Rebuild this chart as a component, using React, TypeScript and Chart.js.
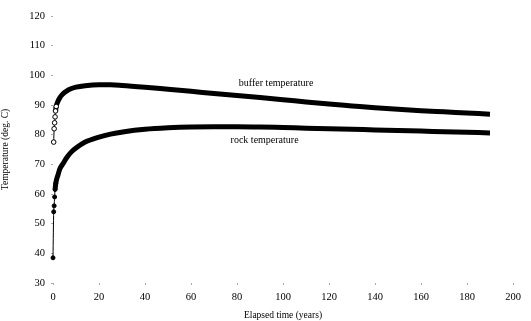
import React, { useEffect, useRef } from "react";
import { Chart, registerables } from "chart.js";

Chart.register(...registerables);

const bufferTime = [0.3, 0.5, 0.7, 0.9, 1.1, 1.4, 2, 3, 4, 5, 7, 10, 14, 20, 25, 30, 40, 50, 60, 70, 80, 90, 100, 110, 120, 130, 140, 150, 160, 170, 180, 190];
const bufferTemp = [77.5, 82, 84, 86, 88, 89.5, 91, 92.5, 93.5, 94.2, 95.2, 96, 96.5, 96.8, 96.8, 96.6, 96, 95.3, 94.6, 93.9, 93.2, 92.5, 91.8, 91, 90.3, 89.7, 89.1, 88.6, 88.1, 87.7, 87.3, 86.9];

const rockTime = [0, 0.3, 0.5, 0.7, 0.9, 1.2, 1.6, 2.2, 3, 4.4, 6, 8, 10, 14, 20, 25, 31, 40, 50, 60, 70, 80, 90, 100, 110, 120, 130, 140, 150, 160, 170, 180, 190];
const rockTemp = [38.5, 54, 56, 59, 61.5, 63.5, 65, 66.5, 68.5, 70.3, 72.3, 74.2, 75.5, 77.5, 79.2, 80.2, 81, 81.8, 82.3, 82.6, 82.7, 82.7, 82.6, 82.4, 82.2, 82, 81.8, 81.6, 81.4, 81.2, 81, 80.8, 80.6];

const xTicks = [0, 20, 40, 60, 80, 100, 120, 140, 160, 180, 200];
const yTicks = [30, 40, 50, 60, 70, 80, 90, 100, 110, 120];

const labelTexts = ["buffer temperature", "rock temperature"];
const labelX = [97, 92];
const labelY = [97.4, 78];

const FONT = "'Liberation Serif', 'DejaVu Serif', serif";

export default function App() {
  const ref = useRef<HTMLCanvasElement | null>(null);

  useEffect(() => {
    document.body.style.margin = "0";
    const canvas = ref.current;
    if (!canvas) return;

    const textPlugin = {
      id: "curveLabels",
      afterDatasetsDraw(chart: any) {
        const { ctx, scales } = chart;
        ctx.save();
        ctx.fillStyle = "#000";
        ctx.font = `10px ${FONT}`;
        ctx.textAlign = "center";
        ctx.textBaseline = "middle";
        labelTexts.forEach((t, i) => {
          ctx.fillText(t, scales.x.getPixelForValue(labelX[i]), scales.y.getPixelForValue(labelY[i]));
        });
        ctx.restore();
      },
    };

    const thinFirst = (n: number) => (c: any) => (c.p0DataIndex < n ? 1 : 5);

    const chart = new Chart(canvas, {
      type: "scatter",
      data: {
        datasets: [
          {
            label: "buffer temperature",
            data: bufferTime.map((t, i) => ({ x: t, y: bufferTemp[i] })),
            showLine: true,
            clip: false,
            borderColor: "#000",
            borderWidth: 5,
            cubicInterpolationMode: "monotone",
            pointRadius: bufferTime.map((t) => (t < 1.5 ? 2.3 : 0)),
            pointBackgroundColor: "#fff",
            pointBorderColor: "#000",
            pointBorderWidth: 1,
            segment: { borderWidth: thinFirst(4) },
          },
          {
            label: "rock temperature",
            data: rockTime.map((t, i) => ({ x: t, y: rockTemp[i] })),
            showLine: true,
            clip: false,
            borderColor: "#000",
            borderWidth: 5,
            cubicInterpolationMode: "monotone",
            pointRadius: rockTime.map((t) => (t < 1.3 ? 2 : 0)),
            pointBackgroundColor: "#000",
            pointBorderColor: "#000",
            pointBorderWidth: 1,
            segment: { borderWidth: thinFirst(4) },
          },
        ],
      },
      options: {
        animation: false,
        responsive: false,
        maintainAspectRatio: false,
        layout: { padding: { top: 16, right: 18, left: 0, bottom: 0 } },
        plugins: {
          legend: { display: false },
          tooltip: { enabled: false },
        },
        scales: {
          x: {
            type: "linear",
            min: 0,
            max: 200,
            afterBuildTicks: (s: any) => {
              s.ticks = xTicks.map((v) => ({ value: v }));
            },
            afterFit: (s: any) => {
              s.height = 38;
            },
            ticks: {
              color: "#000",
              font: { family: FONT, size: 10.5 },
              padding: 6,
              maxRotation: 0,
            },
            grid: { display: true, drawOnChartArea: false, drawTicks: true, tickLength: 2, color: "#aaa" },
            border: { display: false },
            title: {
              display: true,
              text: "Elapsed time (years)",
              color: "#000",
              font: { family: FONT, size: 9.5 },
              padding: { top: 4, bottom: 0 },
            },
          },
          y: {
            type: "linear",
            min: 30,
            max: 120,
            afterBuildTicks: (s: any) => {
              s.ticks = yTicks.map((v) => ({ value: v }));
            },
            afterFit: (s: any) => {
              s.width = 53;
            },
            ticks: {
              color: "#000",
              font: { family: FONT, size: 10.5 },
              padding: 6,
            },
            grid: { display: true, drawOnChartArea: false, drawTicks: true, tickLength: 2, color: "#aaa" },
            border: { display: false },
            title: {
              display: true,
              text: "Temperature (deg. C)",
              color: "#000",
              font: { family: FONT, size: 9.5 },
              padding: { top: 0, bottom: 4 },
            },
          },
        },
      },
      plugins: [textPlugin],
    } as any);

    return () => chart.destroy();
  }, []);

  return (
    <div style={{ width: 531, height: 321 }}>
      <canvas ref={ref} width={531} height={321} style={{ display: "block" }} />
    </div>
  );
}
